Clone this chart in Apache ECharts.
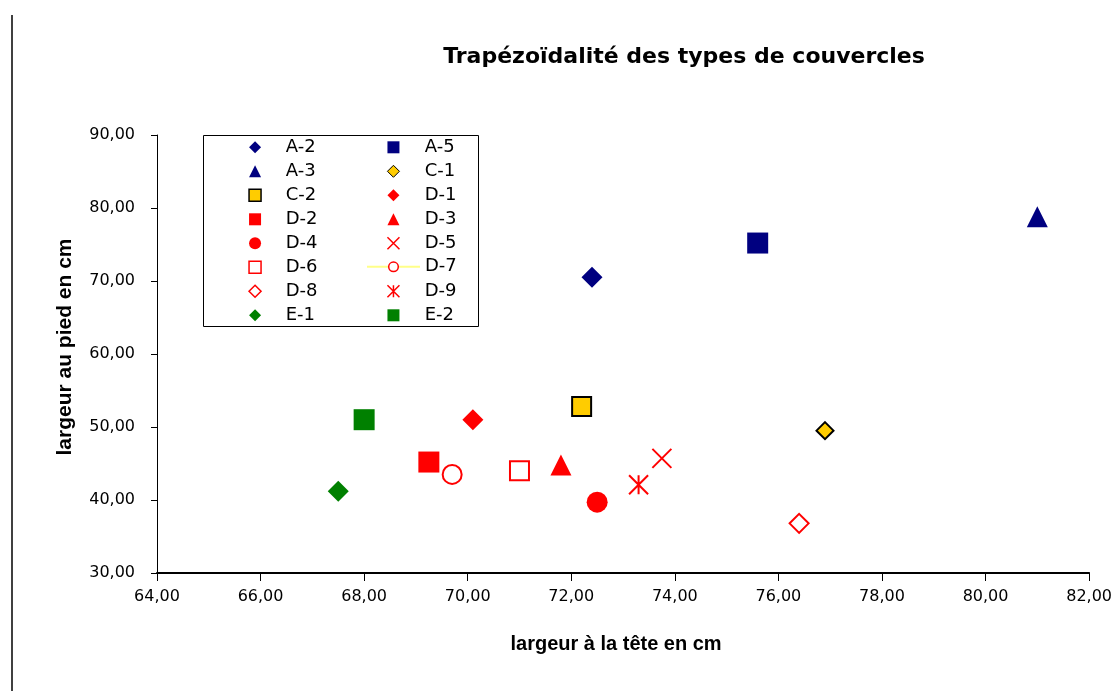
<!DOCTYPE html>
<html>
<head>
<meta charset="utf-8">
<script src="https://cdn.jsdelivr.net/npm/echarts@6/dist/echarts.min.js"></script>
<style>html,body{margin:0;padding:0;background:#fff}#c{width:1115px;height:691px}</style>
</head>
<body>
<div id="c"></div>
<script>
// ---- data ----
const seriesNames = ['A-2','A-5','A-3','C-1','C-2','D-1','D-2','D-3','D-4','D-5','D-6','D-7','D-8','D-9','E-1','E-2'];
const headWidth   = [72.4, 75.6, 81.0, 76.9, 72.2, 70.1, 69.25, 71.8, 72.5, 73.75, 71.0, 69.7, 76.4, 73.3, 67.5, 68.0];
const footWidth   = [70.5, 75.2, 78.8, 49.5, 52.8, 51.0, 45.2, 44.8, 39.7, 45.7, 44.0, 43.5, 36.8, 42.1, 41.2, 51.0];
const xTicks = [64, 66, 68, 70, 72, 74, 76, 78, 80, 82];
const yTicks = [30, 40, 50, 60, 70, 80, 90];
const legendLeftCol  = ['A-2','A-3','C-2','D-2','D-4','D-6','D-8','E-1'];
const legendRightTop = ['A-5','C-1','D-1','D-3','D-5'];
const legendRightMid = ['D-7'];
const legendRightBot = ['D-9','E-2'];
const titleText = 'Trapézoïdalité des types de couvercles';
const xTitle = 'largeur à la tête en cm';
const yTitle = 'largeur au pied en cm';

// ---- styles ----
const NAVY = '#000080', RED = '#ff0000', GREEN = '#008000', GOLD = '#ffcc00';
const PATH_X = 'path://M0,0L20,20M20,0L0,20';
const PATH_AST = 'path://M0,0L20,20M20,0L0,20M10,0L10,20';
const styles = {
  'A-2': {symbol: 'diamond', size: 21, color: NAVY},
  'A-5': {symbol: 'rect', size: 21, color: NAVY},
  'A-3': {symbol: 'triangle', size: 21, color: NAVY},
  'C-1': {symbol: 'diamond', size: 17, color: GOLD, borderColor: '#000', borderWidth: 2},
  'C-2': {symbol: 'rect', size: 19, color: GOLD, borderColor: '#000', borderWidth: 2},
  'D-1': {symbol: 'diamond', size: 21, color: RED},
  'D-2': {symbol: 'rect', size: 21, color: RED},
  'D-3': {symbol: 'triangle', size: 21, color: RED},
  'D-4': {symbol: 'circle', size: 21, color: RED},
  'D-5': {symbol: PATH_X, size: 19, color: RED, borderColor: RED, borderWidth: 2},
  'D-6': {symbol: 'rect', size: 19, color: '#fff', borderColor: RED, borderWidth: 2},
  'D-7': {symbol: 'circle', size: 19, color: '#fff', borderColor: RED, borderWidth: 2, line: true},
  'D-8': {symbol: 'diamond', size: 19, color: '#fff', borderColor: RED, borderWidth: 2},
  'D-9': {symbol: PATH_AST, size: 19, color: RED, borderColor: RED, borderWidth: 2},
  'E-1': {symbol: 'diamond', size: 21, color: GREEN},
  'E-2': {symbol: 'rect', size: 21, color: GREEN}
};

const fmt = v => v.toFixed(2).replace('.', ',');

const series = seriesNames.map((name, i) => {
  const s = styles[name];
  const base = {
    name: name,
    type: s.line ? 'line' : 'scatter',
    data: [[headWidth[i], footWidth[i]]],
    symbol: s.symbol,
    symbolSize: s.size,
    itemStyle: {
      color: s.color,
      borderColor: s.borderColor || s.color,
      borderWidth: s.borderWidth || 0,
      opacity: 1
    },
    emphasis: {disabled: true},
    animation: false
  };
  if (s.line) {
    base.showSymbol = true;
    base.lineStyle = {color: '#ffff88', width: 2};
  }
  return base;
});

function legendData(names) {
  return names.map(n => {
    const s = styles[n];
    const d = {name: n};
    if (s.color === '#fff') d.itemStyle = {borderWidth: 1.5};
    if (s.symbol.indexOf('path://') === 0) d.itemStyle = {borderWidth: 1.5};
    if (n === 'C-1') d.itemStyle = {borderWidth: 1};
    if (n === 'C-2') d.itemStyle = {borderWidth: 1.5};
    return d;
  });
}
function mkLegend(names, left, top, w, h, textPad) {
  return {
    data: legendData(names), orient: 'vertical', left: left, top: top,
    itemWidth: w, itemHeight: h, itemGap: 6, itemTextGap: 5,
    padding: 0, selectedMode: false,
    textStyle: {fontFamily: 'DejaVu Sans', fontSize: 18, color: '#000', lineHeight: 18, padding: [0, 0, 0, textPad]}
  };
}

const chart = echarts.init(document.getElementById('c'), null, {renderer: 'canvas'});
chart.setOption({
  backgroundColor: '#fff',
  animation: false,
  grid: {left: 157, right: 25, top: 135, bottom: 118},
  xAxis: {
    type: 'value', min: xTicks[0], max: xTicks[xTicks.length - 1], interval: xTicks[1] - xTicks[0],
    name: xTitle, nameLocation: 'middle', nameGap: 61,
    nameTextStyle: {fontFamily: 'Liberation Sans', fontWeight: 'bold', fontSize: 20, color: '#000', padding: [0, 14, 0, 0]},
    axisLine: {show: true, lineStyle: {color: '#000', width: 2}},
    axisTick: {show: true, length: 8, lineStyle: {color: '#000', width: 1}},
    splitLine: {show: false},
    axisLabel: {formatter: fmt, margin: 16, fontFamily: 'DejaVu Sans', fontSize: 16, color: '#000', showMaxLabel: true, showMinLabel: true}
  },
  yAxis: {
    type: 'value', min: yTicks[0], max: yTicks[yTicks.length - 1], interval: yTicks[1] - yTicks[0],
    name: yTitle, nameLocation: 'middle', nameGap: 81,
    nameTextStyle: {fontFamily: 'Liberation Sans', fontWeight: 'bold', fontSize: 21, color: '#000', padding: [0, 0, 0, 14]},
    axisLine: {show: true, lineStyle: {color: '#000', width: 1}},
    axisTick: {show: true, length: 6, lineStyle: {color: '#000', width: 1}},
    splitLine: {show: false},
    axisLabel: {formatter: fmt, margin: 22, fontFamily: 'DejaVu Sans', fontSize: 16, color: '#000'}
  },
  legend: [
    mkLegend(legendLeftCol, 248.3, 138.3, 12, 12, 19.7),
    mkLegend(legendRightTop, 386.7, 138.3, 12, 12, 20.3),
    mkLegend(legendRightMid, 366, 257.8, 53, 12, 0),
    mkLegend(legendRightBot, 386.7, 282.3, 12, 12, 20.3)
  ],
  graphic: [
    {type: 'line', shape: {x1: 12, y1: 15, x2: 12, y2: 691}, style: {stroke: '#000', lineWidth: 1.5}, z: 100},
    {type: 'rect', shape: {x: 203.5, y: 135.5, width: 275, height: 191}, style: {fill: 'none', stroke: '#000', lineWidth: 1}, z: -1},
    {type: 'text', x: 684, y: 57, style: {text: titleText, align: 'center', verticalAlign: 'middle',
      fontFamily: 'DejaVu Sans', fontWeight: 'bold', fontSize: 22, fill: '#000'}}
  ],
  series: series
});
</script>
</body>
</html>
